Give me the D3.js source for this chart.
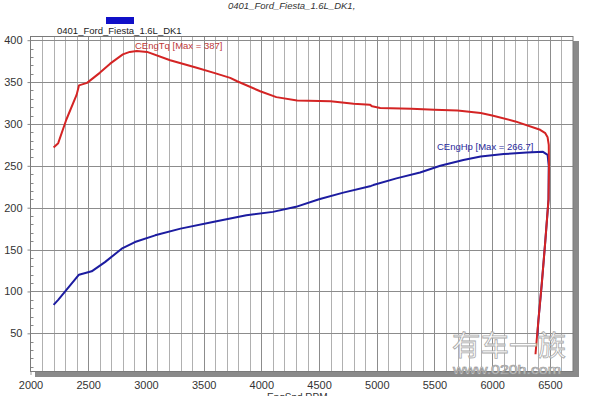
<!DOCTYPE html>
<html>
<head>
<meta charset="utf-8">
<script src="https://cdn.jsdelivr.net/npm/d3@7"></script>
<style>
  body { margin: 0; background: #fff; }
  svg { display: block; font-family: "Liberation Sans", Arial, sans-serif; }
</style>
</head>
<body>
<svg width="597" height="396"></svg>
<script>
const width = 597;
const height = 396;

// torque run (incl. the coast-down back to low rpm)
const tqRpm = [2200, 2240, 2310, 2400, 2420, 2490, 2600, 2690, 2800, 2860, 2920, 3010, 3210, 3440, 3590, 3730, 3790, 3990, 4130, 4310, 4600, 4800, 4940, 4960, 5030, 5300, 5500, 5700, 5900, 6000, 6200, 6415, 6460, 6480, 6490, 6492, 6488, 6460, 6430, 6400, 6375];
const tqVal = [272, 277, 305, 335, 346, 349, 361, 372, 383, 386, 387, 386, 376, 367, 361, 355, 351, 339, 332, 328, 327, 324, 323, 321, 319, 318, 317, 316, 313, 310, 303, 293, 289, 284, 275, 250, 210, 160, 110, 65, 25];

// power run
const hpRpm = [2200, 2240, 2420, 2530, 2645, 2790, 2905, 3080, 3300, 3580, 3870, 4100, 4300, 4500, 4710, 4950, 4970, 5170, 5375, 5550, 5750, 5900, 6100, 6300, 6440, 6480, 6490, 6488, 6460, 6430, 6400, 6390];
const hpVal = [84, 90, 120, 124, 135, 151, 159, 167, 175, 183, 191, 195, 201, 210, 218, 226, 227, 235, 242, 250, 257, 261, 264, 266, 266.7, 263, 250, 210, 160, 110, 65, 45];

const xTicks = [2000, 2500, 3000, 3500, 4000, 4500, 5000, 5500, 6000, 6500];
const yTicks = [50, 100, 150, 200, 250, 300, 350, 400];

const svg = d3.select("svg");

const x = d3.scaleLinear().domain([2000, 6700]).range([30.5, 573]);
const y = d3.scaleLinear().domain([5, 405]).range([371, 36]);

// title (cut at the top in the original)
svg.append("text")
  .attr("x", 228).attr("y", 9)
  .attr("font-size", 9.5).attr("font-style", "italic").attr("fill", "#333")
  .text("0401_Ford_Fiesta_1.6L_DK1,");

// legend
svg.append("rect").attr("x", 106).attr("y", 17).attr("width", 28).attr("height", 7).attr("fill", "#1010c8");
svg.append("text")
  .attr("x", 57).attr("y", 34)
  .attr("font-size", 9.5).attr("fill", "#222")
  .text("0401_Ford_Fiesta_1.6L_DK1");

// x axis ticks (only the first one shows past the shadow)
const xAxis = svg.append("g")
  .attr("transform", `translate(0,${y.range()[0]})`)
  .call(d3.axisBottom(x).tickValues(xTicks).tickSize(4).tickPadding(6).tickFormat(d3.format("d")));
xAxis.select(".domain").remove();
xAxis.selectAll("line").attr("stroke", "#999");
xAxis.selectAll("text").attr("font-size", 11).attr("fill", "#333").attr("font-family", "Liberation Sans, Arial, sans-serif");

// drop shadow
svg.append("rect")
  .attr("x", 35).attr("y", 41)
  .attr("width", 579 - 35).attr("height", 377 - 41)
  .attr("fill", "#8a8a8a");

// plot area
svg.append("rect")
  .attr("x", x.range()[0]).attr("y", y.range()[1])
  .attr("width", x.range()[1] - x.range()[0]).attr("height", y.range()[0] - y.range()[1])
  .attr("fill", "#fff");

// grid
const grid = svg.append("g");
grid.selectAll(".vg")
  .data(d3.range(2100, 6700, 100))
  .enter().append("line")
    .attr("x1", d => Math.round(x(d)) + 0.5).attr("x2", d => Math.round(x(d)) + 0.5)
    .attr("y1", y.range()[1]).attr("y2", y.range()[0])
    .attr("stroke", d => d % 500 === 0 ? "#8c8c8c" : "#b0b0b0")
    .attr("stroke-width", 1);
grid.selectAll(".hg")
  .data(yTicks)
  .enter().append("line")
    .attr("x1", x.range()[0]).attr("x2", x.range()[1])
    .attr("y1", d => Math.round(y(d)) + 0.5).attr("y2", d => Math.round(y(d)) + 0.5)
    .attr("stroke", "#8c8c8c")
    .attr("stroke-width", 1);

// minor y ticks every 10
grid.selectAll(".my")
  .data(d3.range(10, 401, 10))
  .enter().append("line")
    .attr("x1", x.range()[0]).attr("x2", x.range()[0] + 3)
    .attr("y1", d => Math.round(y(d)) + 0.5).attr("y2", d => Math.round(y(d)) + 0.5)
    .attr("stroke", "#888");

// border
svg.append("rect")
  .attr("x", x.range()[0]).attr("y", y.range()[1] + 0.5)
  .attr("width", x.range()[1] - x.range()[0]).attr("height", y.range()[0] - y.range()[1])
  .attr("fill", "none").attr("stroke", "#7a7a7a");

// y axis
const yAxis = svg.append("g")
  .attr("transform", `translate(${x.range()[0]},0)`)
  .call(d3.axisLeft(y).tickValues(yTicks).tickSize(3).tickPadding(5));
yAxis.select(".domain").remove();
yAxis.selectAll("line").attr("stroke", "#888");
yAxis.selectAll("text").attr("font-size", 11).attr("fill", "#333").attr("font-family", "Liberation Sans, Arial, sans-serif");

// x axis title (cut at the bottom, as in the original)
svg.append("text")
  .attr("x", 267).attr("y", 401)
  .attr("font-size", 10).attr("fill", "#333")
  .text("EngSpd RPM");

// curves
const line = d3.line()
  .x(d => x(d[0]))
  .y(d => y(d[1]));

svg.append("path")
  .datum(hpRpm.map((r, i) => [r, hpVal[i]]))
  .attr("d", line)
  .attr("fill", "none")
  .attr("stroke", "#1c1ca0")
  .attr("stroke-width", 2)
  .attr("stroke-linejoin", "round");

svg.append("path")
  .datum(tqRpm.map((r, i) => [r, tqVal[i]]))
  .attr("d", line)
  .attr("fill", "none")
  .attr("stroke", "#d42424")
  .attr("stroke-width", 2)
  .attr("stroke-linejoin", "round");

// curve labels
svg.append("text")
  .attr("x", 135).attr("y", 49)
  .attr("font-size", 9.5).attr("fill", "#c03838")
  .text("CEngTq [Max = 387]");
svg.append("text")
  .attr("x", 437).attr("y", 150)
  .attr("font-size", 9.5).attr("fill", "#2a2a9c")
  .text("CEngHp [Max = 266.7]");

// watermark
svg.append("text")
  .attr("x", 452).attr("y", 356)
  .attr("font-size", 28)
  .attr("textLength", 114).attr("lengthAdjust", "spacingAndGlyphs")
  .attr("font-family", "Noto Sans CJK SC")
  .attr("fill", "#fff").attr("fill-opacity", 0.9)
  .attr("stroke", "#aaa").attr("stroke-width", 0.8)
  .text("有车一族");
svg.append("text")
  .attr("x", 453).attr("y", 374)
  .attr("font-size", 13)
  .attr("textLength", 108).attr("lengthAdjust", "spacingAndGlyphs")
  .attr("fill", "#fff").attr("fill-opacity", 0.9)
  .attr("stroke", "#999").attr("stroke-width", 0.7)
  .text("www.020h.com");
</script>
</body>
</html>
